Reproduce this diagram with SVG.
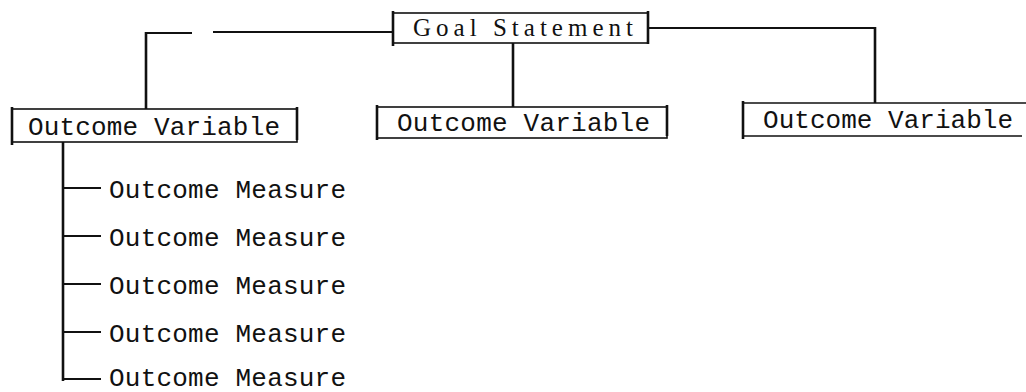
<svg xmlns="http://www.w3.org/2000/svg" width="1026" height="392" viewBox="0 0 1026 392">
<style>
.box{fill:none;stroke:#111;stroke-width:1.6}
.edge{fill:none;stroke:#111;stroke-width:2.6}
.line{fill:none;stroke:#111;stroke-width:2}
.t{font-family:"Liberation Mono",monospace;font-size:26px;fill:#111}
.g{font-family:"Liberation Serif",serif;font-size:25px;fill:#111}
</style>
<rect width="1026" height="392" fill="#fff"/>
<g id="connectors">
<path class="line" d="M393 32 H213"/>
<path class="line" d="M192 33 H146"/>
<path class="edge" d="M146 32 V109"/>
<path class="edge" d="M513 43 V107"/>
<path class="line" d="M648 28 H875"/>
<path class="edge" d="M875 27 V103"/>
<path class="edge" d="M63 142 V381"/>
<path class="line" d="M63 188 H101"/>
<path class="line" d="M63 236 H101"/>
<path class="line" d="M63 284 H101"/>
<path class="line" d="M63 332 H101"/>
<path class="line" d="M63 379 H101"/>
</g>
<g id="goal">
<rect class="box" x="393" y="13" width="255" height="30"/>
<path class="edge" d="M393 11 V46 M648 11 V44"/>
<text class="g" x="413" y="36" textLength="220" lengthAdjust="spacing">Goal Statement</text>
</g>
<g id="var1">
<rect class="box" x="12" y="109" width="285" height="33"/>
<path class="edge" d="M12 107 V145 M297 107 V140"/>
<text class="t" x="28" y="135" textLength="252" lengthAdjust="spacing">Outcome Variable</text>
</g>
<g id="var2">
<rect class="box" x="377" y="107" width="290" height="31"/>
<path class="edge" d="M377 105 V140 M667 105 V136"/>
<text class="t" x="397" y="131" textLength="253" lengthAdjust="spacing">Outcome Variable</text>
</g>
<g id="var3">
<path class="box" d="M1026 103 H743 V136 H1022"/>
<path class="edge" d="M743 101 V139"/>
<text class="t" x="763" y="128" textLength="250" lengthAdjust="spacing">Outcome Variable</text>
</g>
<g id="m1"><text class="t" x="109" y="198" textLength="237" lengthAdjust="spacing">Outcome Measure</text></g>
<g id="m2"><text class="t" x="109" y="246" textLength="237" lengthAdjust="spacing">Outcome Measure</text></g>
<g id="m3"><text class="t" x="109" y="294" textLength="237" lengthAdjust="spacing">Outcome Measure</text></g>
<g id="m4"><text class="t" x="109" y="342" textLength="237" lengthAdjust="spacing">Outcome Measure</text></g>
<g id="m5"><text class="t" x="109" y="386" textLength="237" lengthAdjust="spacing">Outcome Measure</text></g>
</svg>
